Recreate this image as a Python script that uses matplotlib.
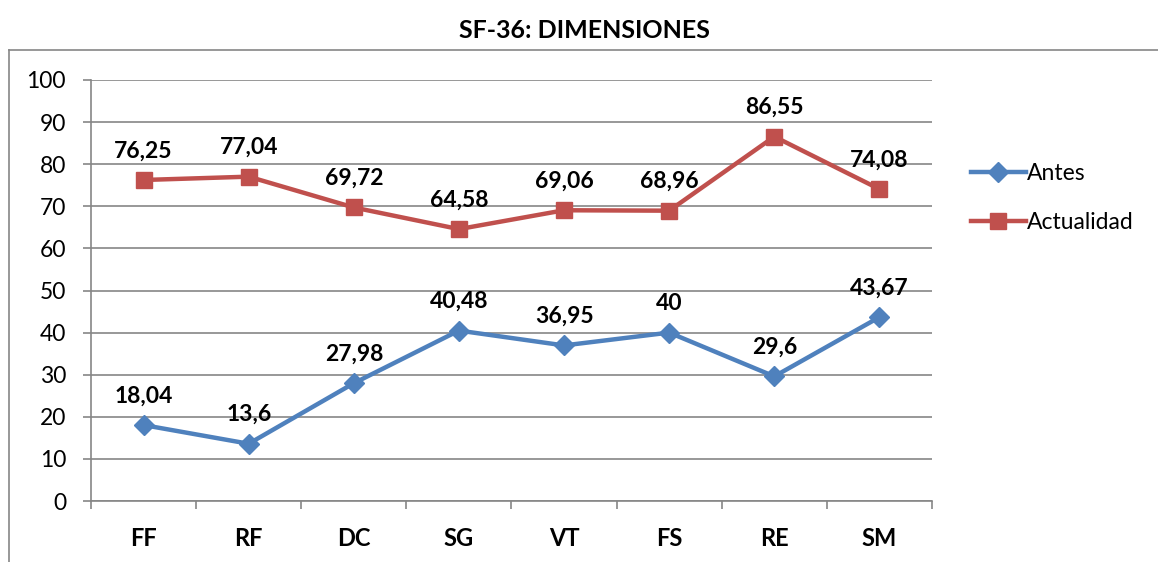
import matplotlib.pyplot as plt
from matplotlib.lines import Line2D

categories = ['FF', 'RF', 'DC', 'SG', 'VT', 'FS', 'RE', 'SM']
antes = [18.04, 13.6, 27.98, 40.48, 36.95, 40, 29.6, 43.67]
actualidad = [76.25, 77.04, 69.72, 64.58, 69.06, 68.96, 86.55, 74.08]
antes_labels = ['18,04', '13,6', '27,98', '40,48', '36,95', '40', '29,6', '43,67']
actualidad_labels = ['76,25', '77,04', '69,72', '64,58', '69,06', '68,96', '86,55', '74,08']

plt.rcParams['font.family'] = ['Lato', 'DejaVu Sans']

W, H = 1158, 562
fig = plt.figure(figsize=(W / 100, H / 100), dpi=100)
ax = fig.add_axes([91 / W, 1 - 501 / H, (932 - 91) / W, (501 - 80) / H])

blue = '#4F81BD'
red = '#C0504D'
grey = '#868686'

x = list(range(len(categories)))
ax.plot(x, antes, color=blue, linewidth=3.2, marker='D', markersize=10,
        label='Antes', zorder=3)
ax.plot(x, actualidad, color=red, linewidth=3.2, marker='s', markersize=11,
        label='Actualidad', zorder=3)

# etiquetas de datos
for xi, v, t in zip(x, antes, antes_labels):
    ax.annotate(t, (xi, v), xytext=(0, 21), textcoords='offset points',
                ha='center', va='center', fontsize=16.5, fontweight='bold')
for xi, v, t in zip(x, actualidad, actualidad_labels):
    ax.annotate(t, (xi, v), xytext=(0, 21), textcoords='offset points',
                ha='center', va='center', fontsize=16.5, fontweight='bold')

ax.set_xlim(-0.5, len(categories) - 0.5)
ax.set_ylim(0, 100)
ax.set_yticks(range(0, 101, 10))
ax.set_xticks(x)
ax.set_xticklabels(categories, fontsize=17, fontweight='bold')
ax.set_xticks([i - 0.5 for i in range(len(categories) + 1)], minor=True)
ax.tick_params(axis='x', which='major', length=0, pad=19)
ax.tick_params(axis='x', which='minor', length=6, width=1.2, color=grey, direction='out')
ax.tick_params(axis='y', length=6, width=1.2, color=grey, labelsize=16.5, pad=12)
ax.yaxis.grid(True, color=grey, linewidth=1.2)
ax.set_axisbelow(True)
for s in ['top', 'right']:
    ax.spines[s].set_visible(False)
for s in ['left', 'bottom']:
    ax.spines[s].set_color(grey)
    ax.spines[s].set_linewidth(1.2)

leg = ax.legend(loc='center left', bbox_to_anchor=(950 / W, 1 - 198 / H),
                bbox_transform=fig.transFigure, frameon=False, fontsize=16.5,
                handlelength=2.4, handletextpad=0.05, labelspacing=1.25)

fig.text(0.505, 1 - 30 / H, 'SF-36: DIMENSIONES', ha='center', va='center',
         fontsize=18, fontweight='bold')

# marco exterior
fig.add_artist(Line2D([9 / W, 1], [1 - 50 / H, 1 - 50 / H], color=grey,
                      linewidth=1.2, transform=fig.transFigure))
fig.add_artist(Line2D([9 / W, 9 / W], [1 - 50 / H, 0], color=grey,
                      linewidth=1.2, transform=fig.transFigure))

fig.savefig('out.png', dpi=100)
